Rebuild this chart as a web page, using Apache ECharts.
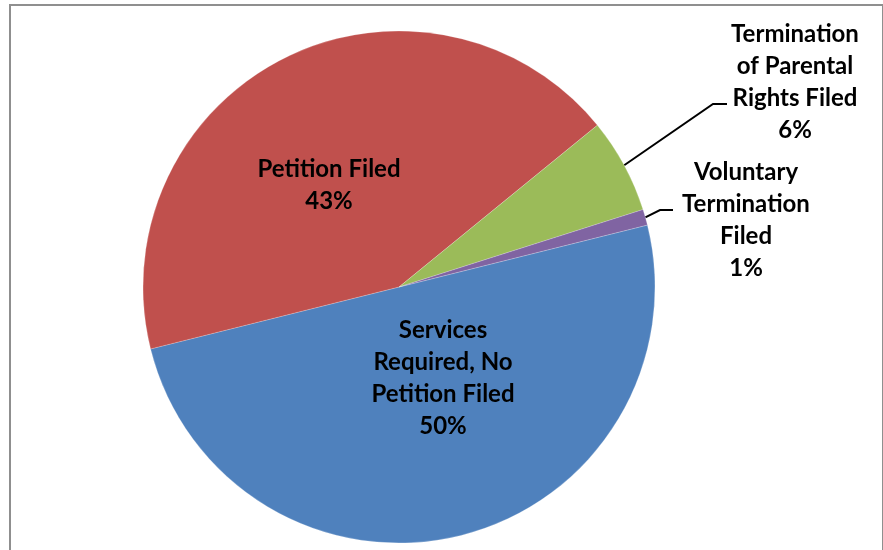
<!DOCTYPE html>
<html>
<head>
<meta charset="utf-8">
<title>Case outcomes</title>
<script src="https://cdn.jsdelivr.net/npm/echarts@6/dist/echarts.min.js"></script>
<style>
  html, body { margin: 0; padding: 0; background: #ffffff; }
  #chart { width: 883px; height: 550px; }
</style>
</head>
<body>
<div id="chart"></div>
<script>
// Outcome categories, clockwise from the slice that starts on the right
const categories = [
  'Services Required, No Petition Filed',
  'Petition Filed',
  'Termination of Parental Rights Filed',
  'Voluntary Termination Filed'
];
// Share of cases, in percent
const shares = [50, 43, 6, 1];
// Category names as they wrap in the slice labels
const wrappedNames = [
  'Services\nRequired, No\nPetition Filed',
  'Petition Filed',
  'Termination\nof Parental\nRights Filed',
  'Voluntary\nTermination\nFiled'
];
const sliceColors = ['#4F81BD', '#C0504D', '#9BBB59', '#8064A2'];

// Where each label block is centred
const labelCentres = [[443, 378], [329, 185], [795, 82], [746, 220]];
// Leader-line bend and end points for the two outside labels
const leaderBends = { 2: [[713, 104], [727, 104]], 3: [[660, 210], [673, 210]] };

const chart = echarts.init(document.getElementById('chart'), null, { renderer: 'canvas' });

const pieData = categories.map((name, i) => ({
  name: name,
  value: shares[i],
  itemStyle: { color: sliceColors[i] },
  labelLine: { show: i >= 2 }
}));

chart.setOption({
  animation: false,
  backgroundColor: '#ffffff',
  graphic: [{
    type: 'rect',
    shape: { x: 10, y: 5, width: 873, height: 580 },
    style: { fill: 'none', stroke: '#8f8f8f', lineWidth: 2 },
    silent: true
  }],
  series: [{
    type: 'pie',
    center: [399, 287],
    radius: 256,
    startAngle: 14,
    clockwise: true,
    avoidLabelOverlap: false,
    emphasis: { disabled: true },
    itemStyle: { borderColor: 'rgba(255,255,255,0.35)', borderWidth: 0.6 },
    label: {
      show: true,
      position: 'outside',
      formatter: (p) => wrappedNames[p.dataIndex] + '\n' + p.value + '%',
      fontFamily: 'Lato',
      fontWeight: 'bold',
      fontSize: 24,
      lineHeight: 32,
      color: '#000000',
      align: 'center'
    },
    labelLine: {
      show: true,
      length: 20,
      length2: 10,
      lineStyle: { color: '#000000', width: 2 }
    },
    labelLayout: (params) => {
      const i = params.dataIndex;
      const c = labelCentres[i];
      const out = { x: c[0], y: c[1], align: 'center', verticalAlign: 'middle' };
      if (leaderBends[i] && params.labelLinePoints) {
        const start = params.labelLinePoints[0];
        out.labelLinePoints = [start, leaderBends[i][0], leaderBends[i][1]];
      }
      return out;
    },
    data: pieData
  }]
});
</script>
</body>
</html>
